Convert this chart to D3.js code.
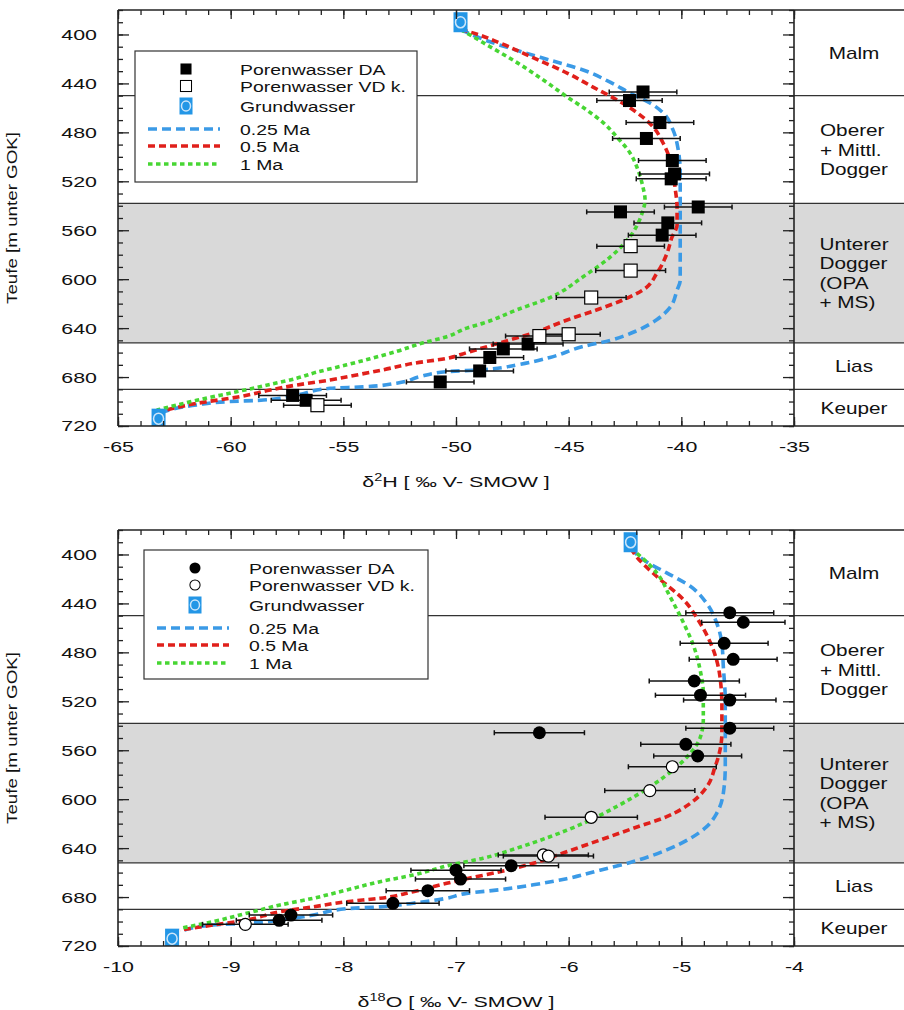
<!DOCTYPE html>
<html>
<head>
<meta charset="utf-8">
<script src="https://cdn.jsdelivr.net/npm/d3@7"></script>
<style>
body { margin: 0; background: #fff; }
svg { font-family: "Liberation Sans", Arial, Helvetica, sans-serif; }
</style>
</head>
<body>
<svg id="chart" width="904" height="1010"></svg>
<script>
// depth axis and geological units
var depthDomain = [380, 720];
var depthTicks = [400, 440, 480, 520, 560, 600, 640, 680, 720];
var unitBounds = [380, 450, 538, 652, 690, 720];
var unitNames = [["Malm"], ["Oberer", "+ Mittl.", "Dogger"], ["Unterer", "Dogger", "(OPA", "+ MS)"], ["Lias"], ["Keuper"]];
var shadedUnit = 2;

var legendLabels = ["Porenwasser DA", "Porenwasser VD k.", "Grundwasser", "0.25 Ma", "0.5 Ma", "1 Ma"];
var modelColors = ["#3b9ae6", "#e0201b", "#47d633"];

// delta 2H : [value, depth, error]
var h2DA = [[-41.7, 447, 1.5], [-42.3, 454, 1.45], [-40.95, 472, 1.5], [-41.55, 485, 1.5], [-40.4, 503, 1.5],
    [-40.3, 514, 1.55], [-40.45, 518, 1.55], [-39.25, 541, 1.5], [-42.7, 545, 1.5], [-40.6, 554, 1.5],
    [-40.85, 564, 1.5], [-46.8, 653, 1.55], [-47.9, 657, 1.5], [-48.5, 664, 1.5], [-48.95, 675, 1.5],
    [-50.7, 684, 1.5], [-57.25, 695, 1.5], [-56.65, 699, 1.55]];
var h2VD = [[-42.25, 573, 1.5], [-42.25, 593, 1.55], [-44.0, 615, 1.55], [-45.0, 645, 1.4], [-46.3, 646.5, 1.5], [-56.15, 703, 1.5]];
var h2GW = [[-49.8, 390], [-63.2, 714]];
var h2M025 = [[-49.8, 396], [-48.49, 406], [-47.29, 413], [-45.83, 421], [-44.36, 429], [-43.16, 439], [-42.27, 448],
    [-41.39, 456], [-40.81, 464], [-40.37, 478], [-40.14, 494], [-40.05, 513], [-40.05, 535], [-40.05, 562],
    [-40.05, 601], [-40.19, 609], [-40.5, 623], [-41.08, 633], [-41.96, 642], [-43.16, 650], [-44.36, 655],
    [-45.83, 664], [-47.29, 670], [-48.8, 674], [-50.41, 675.6], [-51.6, 679.7], [-52.63, 685], [-54.11, 688],
    [-55.59, 689.2], [-57.07, 694.7], [-58.55, 698.8], [-60.03, 700], [-61.51, 702.8], [-63.14, 709.6]];
var h2M05 = [[-49.8, 396], [-49.38, 398], [-48.05, 407], [-46.58, 419], [-45.07, 431.5], [-43.92, 443], [-42.85, 453.6],
    [-41.96, 464], [-41.25, 475.6], [-40.81, 488.7], [-40.41, 508], [-40.28, 525], [-40.19, 541], [-40.19, 556],
    [-40.41, 565.5], [-40.63, 578.6], [-41.08, 595], [-41.7, 608.8], [-42.59, 617], [-43.74, 625], [-45.07, 633.4],
    [-46.58, 644], [-48.05, 652], [-49.52, 660], [-50.41, 664.7], [-51.89, 668.8], [-53.22, 674], [-54.41, 678.3],
    [-55.59, 682.4], [-57.07, 686.5], [-58.25, 690.6], [-59.58, 696], [-61.51, 701.5], [-63.14, 708.3]];
var h2M1 = [[-49.8, 396], [-49.51, 399], [-48.49, 410], [-47.29, 423], [-46.14, 437], [-45.07, 451], [-44.18, 462],
    [-43.47, 472], [-42.85, 484], [-42.27, 497], [-41.92, 511], [-41.7, 525], [-41.61, 535], [-41.74, 546],
    [-42.27, 565], [-43.16, 582], [-44.36, 598], [-45.83, 615], [-47.29, 625], [-48.8, 636], [-49.52, 640],
    [-50.41, 647], [-51.45, 652], [-52.63, 659], [-53.81, 665], [-54.85, 670], [-56.18, 676], [-57.07, 681],
    [-58.25, 686], [-59.73, 692], [-61.51, 699], [-63.28, 707]];

// delta 18O : [value, depth, error]
var o18DA = [[-4.57, 447.6, 0.39], [-4.45, 455.4, 0.37], [-4.62, 472.6, 0.39], [-4.54, 485.7, 0.39], [-4.885, 503.4, 0.4],
    [-4.83, 515, 0.4], [-4.57, 519, 0.41], [-4.57, 542, 0.39], [-6.26, 545.7, 0.4], [-4.96, 555.2, 0.4],
    [-4.855, 564.7, 0.39], [-6.51, 654.4, 0.42], [-7.0, 658, 0.4], [-6.96, 665.3, 0.4], [-7.25, 674.8, 0.37],
    [-7.56, 685.1, 0.41], [-8.465, 694.7, 0.37], [-8.57, 699, 0.38]];
var o18VD = [[-5.08, 573.5, 0.39], [-5.28, 593, 0.4], [-5.8, 614.8, 0.41], [-6.225, 645.6, 0.4], [-6.18, 646.5, 0.4], [-8.87, 702.3, 0.38]];
var o18GW = [[-5.45, 390], [-9.52, 714]];
var o18M025 = [[-5.45, 395], [-5.31, 406], [-5.13, 415], [-4.92, 426], [-4.775, 440], [-4.686, 456], [-4.64, 473],
    [-4.627, 492], [-4.61, 519], [-4.61, 546], [-4.61, 573], [-4.627, 595], [-4.686, 611.5], [-4.775, 622.5],
    [-4.92, 632], [-5.13, 641.5], [-5.426, 651], [-5.722, 658], [-6.018, 665], [-6.314, 670], [-6.61, 674],
    [-6.905, 677], [-7.083, 681], [-7.38, 685], [-7.675, 688], [-7.97, 689.5], [-8.267, 694.7], [-8.562, 698.8],
    [-8.858, 701.5], [-9.154, 702.8], [-9.45, 708.3]];
var o18M05 = [[-5.45, 395], [-5.396, 402], [-5.218, 418], [-4.98, 437], [-4.834, 456], [-4.716, 478], [-4.657, 500],
    [-4.64, 524], [-4.64, 546], [-4.657, 560], [-4.7, 573.5], [-4.775, 590], [-4.92, 603.4], [-5.13, 614.3],
    [-5.426, 623.8], [-5.722, 633.4], [-6.018, 643], [-6.314, 652.4], [-6.61, 659.3], [-6.905, 665], [-7.083, 668.8],
    [-7.38, 675.6], [-7.675, 681], [-7.97, 683.8], [-8.267, 688], [-8.562, 692], [-8.858, 698.8], [-9.154, 702.8],
    [-9.45, 707]];
var o18M1 = [[-5.45, 395], [-5.396, 399], [-5.218, 415], [-5.1, 434.5], [-4.98, 456], [-4.89, 475], [-4.834, 494],
    [-4.805, 513.5], [-4.805, 535], [-4.834, 550], [-4.92, 562.5], [-5.04, 573.5], [-5.28, 590], [-5.574, 606],
    [-5.87, 619.7], [-6.166, 630.7], [-6.46, 640], [-6.76, 648.3], [-7.05, 653.8], [-7.38, 662], [-7.675, 667.4],
    [-7.97, 674.2], [-8.267, 681], [-8.562, 686.5], [-8.858, 693.3], [-9.154, 700], [-9.45, 705.6]];

var svg = d3.select("#chart");
var plotW = 676, plotH = 416, fullW = 786;
var dashes = ["9,5", "7,4", "4.5,3.5"];

var panels = [
  {left: 118, top: 10, xDomain: [-65, -35], xTicks: 6, xMinor: 30, shape: "square",
   da: h2DA, vd: h2VD, gw: h2GW, models: [h2M025, h2M05, h2M1],
   title: ["\u03b4", "2", "H [ \u2030 V- SMOW ]"], legend: {x: 17, y: 41, w: 282, h: 131}},
  {left: 118, top: 530, xDomain: [-10, -4], xTicks: 6, xMinor: 30, shape: "circle",
   da: o18DA, vd: o18VD, gw: o18GW, models: [o18M025, o18M05, o18M1],
   title: ["\u03b4", "18", "O [ \u2030 V- SMOW ]"], legend: {x: 26, y: 20, w: 284, h: 129}}
];

function stretch(sel, k) {
  sel.each(function() {
    var n = this.getComputedTextLength();
    d3.select(this).attr("textLength", n * k).attr("lengthAdjust", "spacingAndGlyphs");
  });
}

function marker(sel, shape, filled) {
  if (shape == "square") {
    sel.append("rect")
        .attr("x", -6.5).attr("y", -6.5).attr("width", 13).attr("height", 13)
        .attr("fill", filled ? "#000" : "#fff")
        .attr("stroke", "#000").attr("stroke-width", filled ? 0 : 1.2);
  } else {
    sel.append("circle")
        .attr("r", filled ? 6.5 : 6)
        .attr("fill", filled ? "#000" : "#fff")
        .attr("stroke", "#000").attr("stroke-width", filled ? 0 : 1.2);
  }
}

function gwMarker(sel, w, h) {
  sel.append("rect")
      .attr("x", -w / 2).attr("y", -h / 2).attr("width", w).attr("height", h)
      .attr("fill", "#2396e6");
  sel.append("ellipse")
      .attr("rx", w / 2 - 2).attr("ry", w / 2 - 1.5)
      .attr("fill", "#2396e6").attr("stroke", "#cde6fa").attr("stroke-width", 1.5);
}

panels.forEach(function(p, pi) {
  var g = svg.append("g").attr("transform", "translate(" + p.left + "," + p.top + ")");
  var x = d3.scaleLinear().domain(p.xDomain).range([0, plotW]);
  var y = d3.scaleLinear().domain(depthDomain).range([0, plotH]);

  g.append("clipPath").attr("id", "clip" + pi)
    .append("rect").attr("width", plotW).attr("height", plotH);

  // shaded unit + unit boundaries
  g.append("rect")
      .attr("x", 0).attr("width", fullW)
      .attr("y", y(unitBounds[shadedUnit]))
      .attr("height", y(unitBounds[shadedUnit + 1]) - y(unitBounds[shadedUnit]))
      .attr("fill", "#d9d9d9");

  g.selectAll(".unitline")
    .data(unitBounds.slice(1, -1))
    .enter().append("line")
      .attr("x1", 0).attr("x2", fullW)
      .attr("y1", function(d) { return y(d); })
      .attr("y2", function(d) { return y(d); })
      .attr("stroke", "#333").attr("stroke-width", 1.3);

  // model curves
  var line = d3.line()
      .x(function(d) { return x(d[0]); })
      .y(function(d) { return y(d[1]); })
      .curve(d3.curveMonotoneY);

  g.append("g").attr("clip-path", "url(#clip" + pi + ")")
    .selectAll("path")
    .data(p.models)
    .enter().append("path")
      .attr("d", line)
      .attr("fill", "none")
      .attr("stroke", function(d, i) { return modelColors[i]; })
      .attr("stroke-width", 3.6)
      .attr("stroke-dasharray", function(d, i) { return dashes[i]; });

  // error bars
  var pts = p.da.map(function(d) { return {v: d[0], d: d[1], e: d[2], f: true}; })
      .concat(p.vd.map(function(d) { return {v: d[0], d: d[1], e: d[2], f: false}; }));

  var eb = g.append("g").attr("stroke", "#111").attr("stroke-width", 1.5);
  pts.forEach(function(d) {
    var yy = y(d.d), x0 = x(d.v - d.e), x1 = x(d.v + d.e);
    eb.append("line").attr("x1", x0).attr("x2", x1).attr("y1", yy).attr("y2", yy);
    eb.append("line").attr("x1", x0).attr("x2", x0).attr("y1", yy - 2.5).attr("y2", yy + 2.5);
    eb.append("line").attr("x1", x1).attr("x2", x1).attr("y1", yy - 2.5).attr("y2", yy + 2.5);
  });

  pts.forEach(function(d) {
    var m = g.append("g").attr("transform", "translate(" + x(d.v) + "," + y(d.d) + ")");
    marker(m, p.shape, d.f);
  });

  // groundwater
  var gwg = g.append("g").attr("clip-path", "url(#clip" + pi + ")");
  p.gw.forEach(function(d) {
    var m = gwg.append("g").attr("transform", "translate(" + x(d[0]) + "," + y(d[1]) + ")");
    gwMarker(m, 14, 20);
  });

  // legend
  var L = p.legend;
  var lg = g.append("g").attr("transform", "translate(" + L.x + "," + L.y + ")");
  lg.append("rect").attr("width", L.w).attr("height", L.h)
      .attr("fill", "#fff").attr("stroke", "#333").attr("stroke-width", 1.2);
  var rows = [18, 35, 55, 78, 95, 113];
  legendLabels.forEach(function(lab, i) {
    var r = lg.append("g").attr("transform", "translate(0," + rows[i] + ")");
    if (i < 2) {
      var s = r.append("g").attr("transform", "translate(51,0) scale(0.85)");
      marker(s, p.shape, i == 0);
    } else if (i == 2) {
      var s2 = r.append("g").attr("transform", "translate(51,0)");
      gwMarker(s2, 13, 17);
    } else {
      r.append("line").attr("x1", 13).attr("x2", 85)
          .attr("stroke", modelColors[i - 3]).attr("stroke-width", 3.6)
          .attr("stroke-dasharray", dashes[i - 3]);
    }
    r.append("text").attr("x", 105).attr("dy", "0.36em")
        .attr("font-size", 15.5).attr("fill", "#111")
        .text(lab)
        .call(stretch, 1.25);
  });

  // unit labels in right column
  unitNames.forEach(function(names, i) {
    var mid = (y(unitBounds[i]) + y(unitBounds[i + 1])) / 2;
    var t = g.append("g");
    var lines = names.map(function(n, j) {
      return t.append("text")
          .attr("y", mid + (j - (names.length - 1) / 2) * 19.5)
          .attr("dy", "0.36em")
          .attr("font-size", 17).attr("fill", "#111")
          .text(n)
          .call(stretch, 1.22);
    });
    var maxW = d3.max(lines, function(s) { return +s.attr("textLength"); });
    var left = plotW + (fullW - plotW) / 2 + 5 - maxW / 2;
    lines.forEach(function(s) { s.attr("x", left); });
  });

  // frame
  var fr = g.append("g").attr("stroke", "#222").attr("stroke-width", 1.6);
  fr.append("line").attr("x1", 0).attr("x2", fullW).attr("y1", 0).attr("y2", 0);
  fr.append("line").attr("x1", 0).attr("x2", fullW).attr("y1", plotH).attr("y2", plotH);
  fr.append("line").attr("x1", 0).attr("x2", 0).attr("y1", 0).attr("y2", plotH);
  fr.append("line").attr("x1", plotW).attr("x2", plotW).attr("y1", 0).attr("y2", plotH);

  // axes
  var xMajor = d3.ticks(p.xDomain[0], p.xDomain[1], p.xTicks);
  var xMinor = d3.ticks(p.xDomain[0], p.xDomain[1], p.xMinor);
  var yMinor = d3.ticks(depthDomain[0], depthDomain[1], 34);

  function styleAxis(a) {
    a.select(".domain").remove();
    a.attr("font-family", null).attr("font-size", 15.5);
    a.selectAll(".tick line").attr("stroke", "#222").attr("stroke-width", 1.3);
    a.selectAll(".tick text").attr("fill", "#111");
  }

  g.append("g").attr("transform", "translate(0," + plotH + ")")
      .call(d3.axisBottom(x).tickValues(xMinor).tickSize(-5).tickFormat(""))
      .call(styleAxis);
  var xb = g.append("g").attr("transform", "translate(0," + plotH + ")")
      .call(d3.axisBottom(x).tickValues(xMajor).tickSizeInner(-9).tickSizeOuter(0).tickPadding(15)
        .tickFormat(d3.format("d")))
      .call(styleAxis);
  xb.selectAll(".tick text").text(function(d) { return String(d).replace("-", "-"); }).call(stretch, 1.38);

  g.append("g")
      .call(d3.axisTop(x).tickValues(xMinor).tickSize(-5).tickFormat(""))
      .call(styleAxis);
  g.append("g")
      .call(d3.axisTop(x).tickValues(xMajor).tickSize(-9).tickFormat(""))
      .call(styleAxis);

  g.append("g")
      .call(d3.axisLeft(y).tickValues(yMinor).tickSize(-5).tickFormat(""))
      .call(styleAxis);
  var yl = g.append("g")
      .call(d3.axisLeft(y).tickValues(depthTicks).tickSizeInner(-11).tickSizeOuter(0).tickPadding(21))
      .call(styleAxis);
  yl.selectAll(".tick text").call(stretch, 1.38);

  g.append("g").attr("transform", "translate(" + plotW + ",0)")
      .call(d3.axisRight(y).tickValues(yMinor).tickSize(-5).tickFormat(""))
      .call(styleAxis);
  g.append("g").attr("transform", "translate(" + plotW + ",0)")
      .call(d3.axisRight(y).tickValues(depthTicks).tickSize(-11).tickFormat(""))
      .call(styleAxis);

  // titles
  var xt = g.append("text")
      .attr("x", plotW / 2).attr("y", plotH + 61)
      .attr("text-anchor", "middle")
      .attr("font-size", 15.5).attr("fill", "#111");
  xt.append("tspan").text(p.title[0]);
  xt.append("tspan").attr("dy", -6).attr("font-size", 10.5).text(p.title[1]);
  xt.append("tspan").attr("dy", 6).text(p.title[2]);
  xt.call(stretch, 1.38);

  g.append("text")
      .attr("transform", "translate(-101," + (plotH / 2) + ") rotate(-90)")
      .attr("text-anchor", "middle")
      .attr("font-size", 15).attr("fill", "#111")
      .text("Teufe [m unter GOK]")
      .call(stretch, 1.25);
});
</script>
</body>
</html>
